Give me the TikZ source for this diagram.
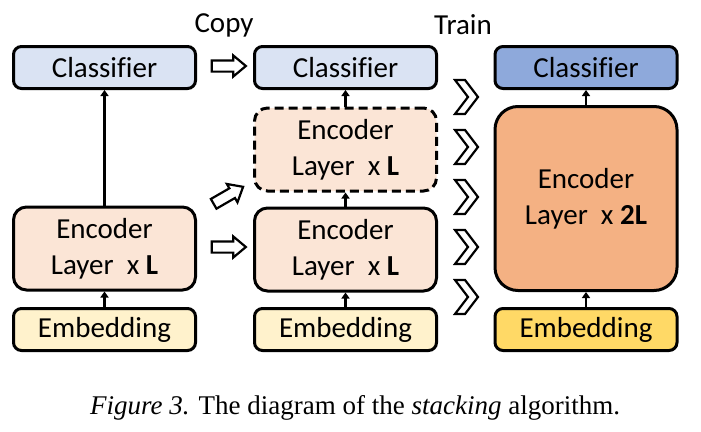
\documentclass[tikz,border=0pt]{standalone}
\usepackage{fontspec}
\setmainfont[Ligatures=NoCommon]{Carlito}
\newfontfamily\capfont{Liberation Serif}
\usetikzlibrary{arrows.meta,shapes.arrows}
\definecolor{clsA}{HTML}{DAE3F3}
\definecolor{encA}{HTML}{FBE5D6}
\definecolor{embA}{HTML}{FFF2CC}
\definecolor{clsB}{HTML}{8EA9DB}
\definecolor{encB}{HTML}{F4B183}
\definecolor{embB}{HTML}{FFD966}
\tikzset{
  blk/.style={draw=black, line width=3pt, rounded corners=8pt, minimum width=182pt, inner sep=0pt,
    font=\fontsize{29}{36}\selectfont, align=center},
  cls/.style={blk, minimum height=42pt},
  emb/.style={blk, minimum height=42pt},
  enc/.style={blk, rounded corners=13pt, minimum height=83pt},
  conn/.style={line width=2.4pt, -{Triangle[width=8pt,length=6pt]}},
  blockarrow/.style={single arrow, draw=black, fill=white, line width=2.2pt, inner sep=4.5pt,
    minimum height=34pt, minimum width=19pt, single arrow head extend=5pt, single arrow tip angle=80},
  lbl/.style={font=\fontsize{29}{34}\selectfont, inner sep=0pt},
  chev/.style={draw=black, fill=white, line width=2.2pt, line join=miter}
}
\begin{document}
\begin{tikzpicture}[x=1pt,y=-1pt]
\useasboundingbox[fill=white] (0,0) rectangle (701,431);
% left column
\node[cls, fill=clsA] (c1) at (104.5,67.5) {Classifier};
\node[enc, fill=encA] (e1) at (104.5,248.5) {Encoder\\Layer\ \ x \textbf{L}};
\node[emb, fill=embA] (m1) at (104.5,329.5) {Embedding};
\draw[conn] (e1.north) -- (c1.south);
\draw[conn] (m1.north) -- (e1.south);
% middle column
\node[cls, fill=clsA] (c2) at (345.5,67.5) {Classifier};
\node[enc, fill=encA, dash pattern=on 9pt off 5pt] (d2) at (345.5,149.5) {Encoder\\Layer\ \ x \textbf{L}};
\node[enc, fill=encA] (e2) at (345.5,249.5) {Encoder\\Layer\ \ x \textbf{L}};
\node[emb, fill=embA] (m2) at (345.5,329.5) {Embedding};
\draw[conn] (m2.north) -- (e2.south);
\draw[conn] (e2.north) -- (d2.south);
\draw[conn] (d2.north) -- (c2.south);
% right column
\node[cls, fill=clsB] (c3) at (586,67.5) {Classifier};
\node[enc, fill=encB, rounded corners=23pt, minimum height=184pt] (e3) at (586,198.5) {Encoder\\Layer\ \ x \textbf{2L}};
\node[emb, fill=embB] (m3) at (586,329.5) {Embedding};
\draw[conn] (m3.north) -- (e3.south);
\draw[conn] (e3.north) -- (c3.south);
% labels
\node[lbl] (copy) at (224,25) {Copy};
\node[lbl] (train) at (463,25) {Train};
% copy arrows
\node[blockarrow] (a1) at (225.5,66) {};
\node[blockarrow] (a2) at (225.5,247) {};
\node[blockarrow, rotate=30] (a3) at (225.5,197) {};
% chevrons
\foreach \cy in {97,147,197,247,297} {
  \draw[chev] (455,\cy-17) -- (465,\cy-17) -- (478,\cy) -- (465,\cy+17) -- (455,\cy+17) -- (468,\cy) -- cycle;
}
% caption
\node[anchor=base west, inner sep=0pt, font=\capfont\fontsize{27}{30}\selectfont] (cap) at (90,414)
  {\textit{Figure 3.} The diagram of the \textit{stacking} algorithm.};
\end{tikzpicture}
\end{document}
